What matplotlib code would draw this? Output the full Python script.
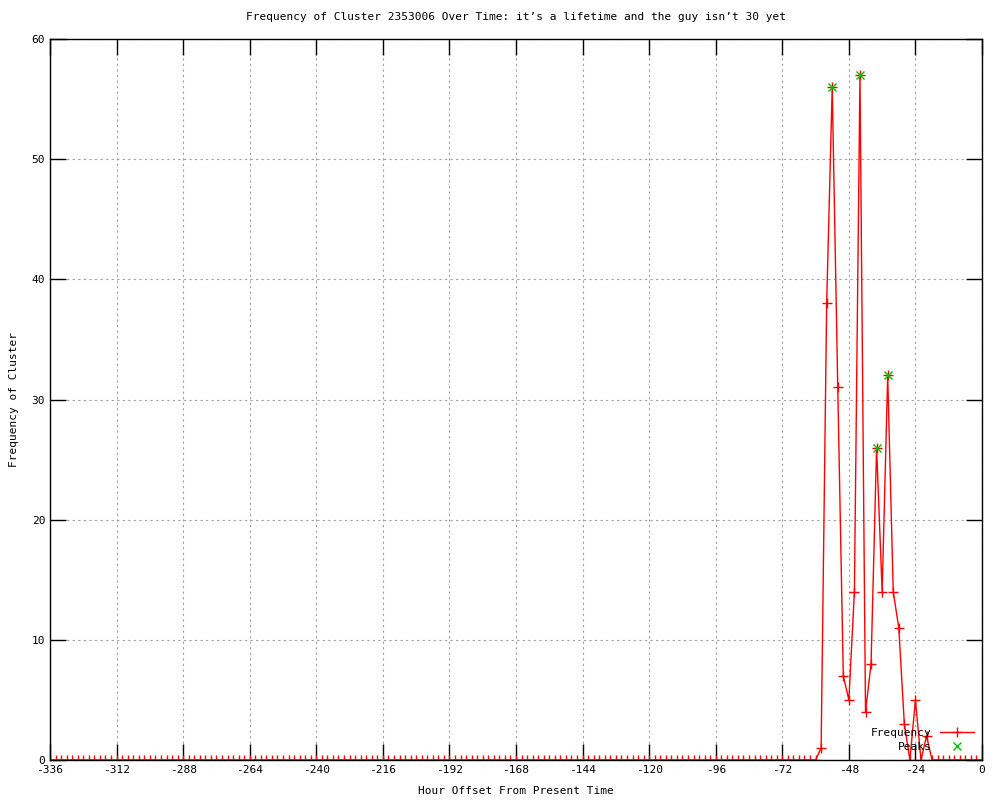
import numpy as np
import matplotlib
matplotlib.use('Agg')
import matplotlib.pyplot as plt

# hours from -336 to 0 in 2h steps, nonzero values only listed
hours = list(range(-336, 1, 2))
nonzero_hours = [-58, -56, -54, -52, -50, -48, -46, -44, -42, -40, -38, -36, -34, -32, -30, -28, -24, -20]
nonzero_vals = [1, 38, 56, 31, 7, 5, 14, 57, 4, 8, 26, 14, 32, 14, 11, 3, 5, 2]
freq = [0] * len(hours)
for h, v in zip(nonzero_hours, nonzero_vals):
    freq[hours.index(h)] = v

peak_hours = [-54, -44, -38, -34]
peak_vals = [56, 57, 26, 32]

x_ticks = list(range(-336, 1, 24))
y_ticks = list(range(0, 61, 10))

plt.rcParams['font.family'] = 'DejaVu Sans Mono'
plt.rcParams['font.size'] = 8
plt.rcParams['axes.unicode_minus'] = False

fig = plt.figure(figsize=(10, 8), dpi=100)
ax = fig.add_axes([0.05, 0.05, 0.932, 0.90125])

ax.plot(hours, freq, '-', color='red', linewidth=1, marker='+', markersize=7,
        markeredgewidth=1, label='Frequency')
ax.plot(peak_hours, peak_vals, 'x', color='#00c000', markersize=6,
        markeredgewidth=1, label='Peaks')

ax.set_xlim(-336, 0)
ax.set_ylim(0, 60)
ax.set_xticks(x_ticks)
ax.set_yticks(y_ticks)
ax.tick_params(direction='in', length=11.5, width=1, top=True, right=True, labelsize=8)
ax.grid(True, linestyle=(0, (2, 3)), color='#a0a0a0', linewidth=0.8)
for s in ax.spines.values():
    s.set_linewidth(1)

ax.set_title("Frequency of Cluster 2353006 Over Time: it’s a lifetime and the guy isn’t 30 yet",
             fontsize=8, pad=14)
ax.set_xlabel('Hour Offset From Present Time', fontsize=8, labelpad=8)
ax.set_ylabel('Frequency of Cluster', fontsize=8, labelpad=9)

leg = ax.legend(loc='lower right', frameon=False, fontsize=8, markerfirst=False,
                handlelength=3, borderaxespad=0.35, labelspacing=0.3)

plt.savefig('out.png', dpi=100)
